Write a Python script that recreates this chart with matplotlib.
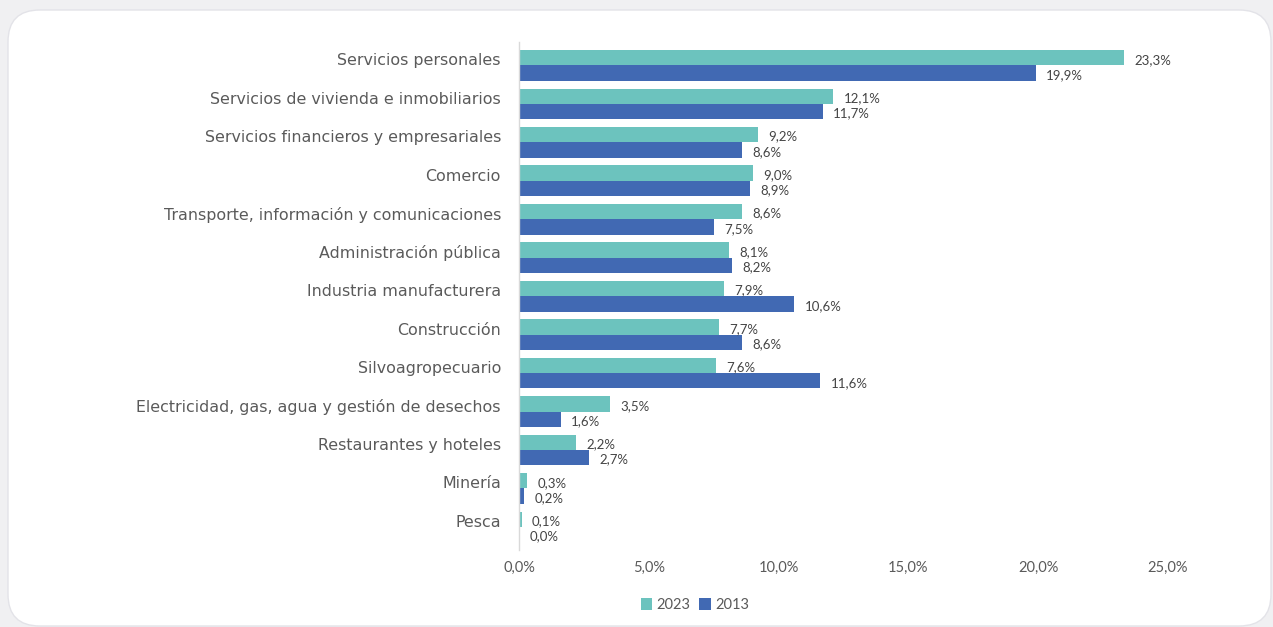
import matplotlib.pyplot as plt
import matplotlib.transforms as mtransforms
import numpy as np
from matplotlib.patches import FancyBboxPatch

# Data
categories = [
    'Servicios personales',
    'Servicios de vivienda e inmobiliarios',
    'Servicios financieros y empresariales',
    'Comercio',
    'Transporte, información y comunicaciones',
    'Administración pública',
    'Industria manufacturera',
    'Construcción',
    'Silvoagropecuario',
    'Electricidad, gas, agua y gestión de desechos',
    'Restaurantes y hoteles',
    'Minería',
    'Pesca',
]
values_2023 = [23.3, 12.1, 9.2, 9.0, 8.6, 8.1, 7.9, 7.7, 7.6, 3.5, 2.2, 0.3, 0.1]
values_2013 = [19.9, 11.7, 8.6, 8.9, 7.5, 8.2, 10.6, 8.6, 11.6, 1.6, 2.7, 0.2, 0.0]
xticks = [0, 5, 10, 15, 20, 25]

teal = '#6CC3BE'
blue = '#4169B3'
text_grey = '#5a5a5a'

plt.rcParams['font.family'] = ['Lato', 'DejaVu Sans']

W, H = 1273, 627
fig = plt.figure(figsize=(W / 100, H / 100), dpi=100)
fig.patch.set_facecolor('#f0f0f2')

# rounded card background
card = FancyBboxPatch((8 / W, 1 / H), (W - 10) / W, (H - 11) / H,
                      boxstyle='round,pad=0,rounding_size=0.025',
                      transform=fig.transFigure, facecolor='white',
                      edgecolor='#e3e3e8', linewidth=1.0,
                      mutation_aspect=W / H, zorder=-1)
fig.patches.append(card)

ax = fig.add_axes([519 / W, 1 - 550 / H, (1168 - 519) / W, (550 - 42.4) / H])
ax.set_facecolor('none')

y = np.arange(len(categories))
h = 0.4
b1 = ax.barh(y - h / 2, values_2023, height=h, color=teal, label='2023')
b2 = ax.barh(y + h / 2, values_2013, height=h, color=blue, label='2013')

for bars, vals in ((b1, values_2023), (b2, values_2013)):
    for bar, v in zip(bars, vals):
        ax.text(v + 0.4, bar.get_y() + bar.get_height() / 2 + 0.05,
                f'{v:.1f}%'.replace('.', ','), va='center', ha='left',
                fontsize=9.5, color='#444444')

ax.set_xlim(0, 25)
ax.set_ylim(len(categories) - 0.4, -0.6)
ax.set_yticks(y)
ax.set_yticklabels(categories, fontsize=11.4, color=text_grey,
                   family=['DejaVu Sans'])
ax.set_xticks(xticks)
ax.set_xticklabels([f'{t:.1f}%'.replace('.', ',') for t in xticks],
                   fontsize=10.5, color=text_grey)
ax.tick_params(axis='both', length=0)
ax.tick_params(axis='y', pad=13)
ax.tick_params(axis='x', pad=8)

# nudge category labels up a little, as in the reference
shift = mtransforms.ScaledTranslation(0, 6 / 100, fig.dpi_scale_trans)
for lbl in ax.get_yticklabels():
    lbl.set_transform(lbl.get_transform() + shift)

for s in ('top', 'right', 'bottom'):
    ax.spines[s].set_visible(False)
ax.spines['left'].set_color('#d9d9d9')
ax.spines['left'].set_linewidth(1.0)

fig.legend(handles=[b1, b2], labels=['2023', '2013'], loc='center',
           bbox_to_anchor=(695 / W, 1 - 605 / H), ncol=2, frameon=False,
           fontsize=10.5, handlelength=0.8, handleheight=0.8,
           handletextpad=0.3, columnspacing=0.6, labelcolor=text_grey)

fig.savefig('out.png', dpi=100, facecolor=fig.get_facecolor())
